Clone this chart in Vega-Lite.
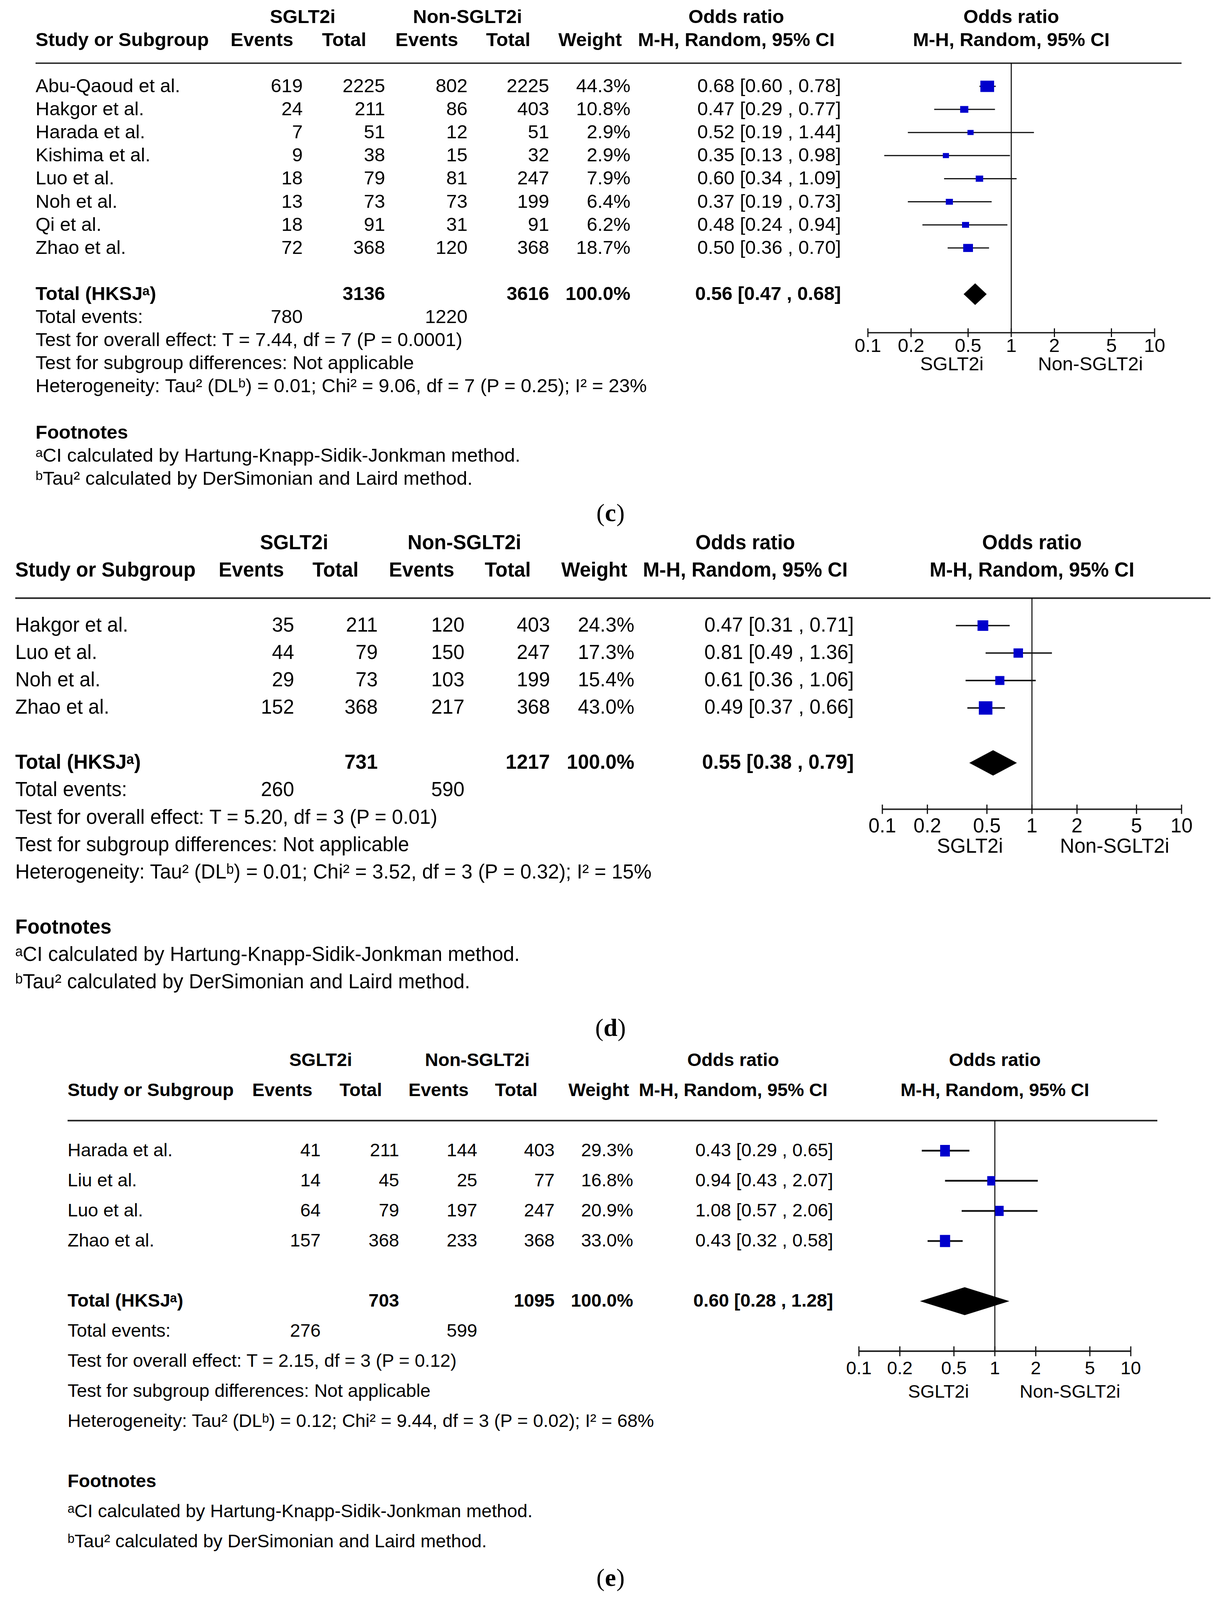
{
"$schema":"https://vega.github.io/schema/vega-lite/v6.json",
"padding":0,
"spacing":0,
"background":"white",
"config":{"view":{"stroke":null},"axis":{"disable":true},"legend":{"disable":true},
 "style":{"c":{"font":"Liberation Sans","fontSize":49},"d":{"font":"Liberation Sans","fontSize":51},"e":{"font":"Liberation Sans","fontSize":47},"b":{"fontWeight":"bold"},"cap":{"font":"Liberation Serif","fontSize":64}}},
"datasets":{
 "ticks":[{"v":0.1,"l":"0.1"},{"v":0.2,"l":"0.2"},{"v":0.5,"l":"0.5"},{"v":1,"l":"1"},{"v":2,"l":"2"},{"v":5,"l":"5"},{"v":10,"l":"10"}],
 "c_st":[
  {"row":3,"study":"Abu-Qaoud et al.","e1":619,"n1":2225,"e2":802,"n2":2225,"weight":44.3,"w":"44.3%","or":0.68,"lo":0.60,"hi":0.78,"ci":"0.68 [0.60 , 0.78]"},
  {"row":4,"study":"Hakgor et al.","e1":24,"n1":211,"e2":86,"n2":403,"weight":10.8,"w":"10.8%","or":0.47,"lo":0.29,"hi":0.77,"ci":"0.47 [0.29 , 0.77]"},
  {"row":5,"study":"Harada et al.","e1":7,"n1":51,"e2":12,"n2":51,"weight":2.9,"w":"2.9%","or":0.52,"lo":0.19,"hi":1.44,"ci":"0.52 [0.19 , 1.44]"},
  {"row":6,"study":"Kishima et al.","e1":9,"n1":38,"e2":15,"n2":32,"weight":2.9,"w":"2.9%","or":0.35,"lo":0.13,"hi":0.98,"ci":"0.35 [0.13 , 0.98]"},
  {"row":7,"study":"Luo et al.","e1":18,"n1":79,"e2":81,"n2":247,"weight":7.9,"w":"7.9%","or":0.60,"lo":0.34,"hi":1.09,"ci":"0.60 [0.34 , 1.09]"},
  {"row":8,"study":"Noh et al.","e1":13,"n1":73,"e2":73,"n2":199,"weight":6.4,"w":"6.4%","or":0.37,"lo":0.19,"hi":0.73,"ci":"0.37 [0.19 , 0.73]"},
  {"row":9,"study":"Qi et al.","e1":18,"n1":91,"e2":31,"n2":91,"weight":6.2,"w":"6.2%","or":0.48,"lo":0.24,"hi":0.94,"ci":"0.48 [0.24 , 0.94]"},
  {"row":10,"study":"Zhao et al.","e1":72,"n1":368,"e2":120,"n2":368,"weight":18.7,"w":"18.7%","or":0.50,"lo":0.36,"hi":0.70,"ci":"0.50 [0.36 , 0.70]"}],
 "c_tot":[{"row":12,"label":"Total (HKSJᵃ)","n1":3136,"n2":3616,"w":"100.0%","or":0.56,"lo":0.47,"hi":0.68,"ci":"0.56 [0.47 , 0.68]"}],
 "c_ev":[{"row":13,"label":"Total events:","e1":780,"e2":1220}],
 "c_notes":[
  {"row":14,"t":"Test for overall effect: T = 7.44, df = 7 (P = 0.0001)"},
  {"row":15,"t":"Test for subgroup differences: Not applicable"},
  {"row":16,"t":"Heterogeneity: Tau² (DLᵇ) = 0.01; Chi² = 9.06, df = 7 (P = 0.25); I² = 23%"},
  {"row":19,"t":"ᵃCI calculated by Hartung-Knapp-Sidik-Jonkman method."},
  {"row":20,"t":"ᵇTau² calculated by DerSimonian and Laird method."}],
 "d_st":[
  {"row":3,"study":"Hakgor et al.","e1":35,"n1":211,"e2":120,"n2":403,"weight":24.3,"w":"24.3%","or":0.47,"lo":0.31,"hi":0.71,"ci":"0.47 [0.31 , 0.71]"},
  {"row":4,"study":"Luo et al.","e1":44,"n1":79,"e2":150,"n2":247,"weight":17.3,"w":"17.3%","or":0.81,"lo":0.49,"hi":1.36,"ci":"0.81 [0.49 , 1.36]"},
  {"row":5,"study":"Noh et al.","e1":29,"n1":73,"e2":103,"n2":199,"weight":15.4,"w":"15.4%","or":0.61,"lo":0.36,"hi":1.06,"ci":"0.61 [0.36 , 1.06]"},
  {"row":6,"study":"Zhao et al.","e1":152,"n1":368,"e2":217,"n2":368,"weight":43.0,"w":"43.0%","or":0.49,"lo":0.37,"hi":0.66,"ci":"0.49 [0.37 , 0.66]"}],
 "d_tot":[{"row":8,"label":"Total (HKSJᵃ)","n1":731,"n2":1217,"w":"100.0%","or":0.55,"lo":0.38,"hi":0.79,"ci":"0.55 [0.38 , 0.79]"}],
 "d_ev":[{"row":9,"label":"Total events:","e1":260,"e2":590}],
 "d_notes":[
  {"row":10,"t":"Test for overall effect: T = 5.20, df = 3 (P = 0.01)"},
  {"row":11,"t":"Test for subgroup differences: Not applicable"},
  {"row":12,"t":"Heterogeneity: Tau² (DLᵇ) = 0.01; Chi² = 3.52, df = 3 (P = 0.32); I² = 15%"},
  {"row":15,"t":"ᵃCI calculated by Hartung-Knapp-Sidik-Jonkman method."},
  {"row":16,"t":"ᵇTau² calculated by DerSimonian and Laird method."}],
 "e_st":[
  {"row":3,"study":"Harada et al.","e1":41,"n1":211,"e2":144,"n2":403,"weight":29.3,"w":"29.3%","or":0.43,"lo":0.29,"hi":0.65,"ci":"0.43 [0.29 , 0.65]"},
  {"row":4,"study":"Liu et al.","e1":14,"n1":45,"e2":25,"n2":77,"weight":16.8,"w":"16.8%","or":0.94,"lo":0.43,"hi":2.07,"ci":"0.94 [0.43 , 2.07]"},
  {"row":5,"study":"Luo et al.","e1":64,"n1":79,"e2":197,"n2":247,"weight":20.9,"w":"20.9%","or":1.08,"lo":0.57,"hi":2.06,"ci":"1.08 [0.57 , 2.06]"},
  {"row":6,"study":"Zhao et al.","e1":157,"n1":368,"e2":233,"n2":368,"weight":33.0,"w":"33.0%","or":0.43,"lo":0.32,"hi":0.58,"ci":"0.43 [0.32 , 0.58]"}],
 "e_tot":[{"row":8,"label":"Total (HKSJᵃ)","n1":703,"n2":1095,"w":"100.0%","or":0.60,"lo":0.28,"hi":1.28,"ci":"0.60 [0.28 , 1.28]"}],
 "e_ev":[{"row":9,"label":"Total events:","e1":276,"e2":599}],
 "e_notes":[
  {"row":10,"t":"Test for overall effect: T = 2.15, df = 3 (P = 0.12)"},
  {"row":11,"t":"Test for subgroup differences: Not applicable"},
  {"row":12,"t":"Heterogeneity: Tau² (DLᵇ) = 0.12; Chi² = 9.44, df = 3 (P = 0.02); I² = 68%"},
  {"row":15,"t":"ᵃCI calculated by Hartung-Knapp-Sidik-Jonkman method."},
  {"row":16,"t":"ᵇTau² calculated by DerSimonian and Laird method."}]
},
"vconcat":[
{"width":3126,"height":1360,"resolve":{"scale":{"x":"independent"}},
 "layer":[
  {"layer":[
   {"data":{"values":[{}]},"mark":{"type":"rule","strokeWidth":3.5,"color":"#222"},"encoding":{"x":{"datum":0,"type":"quantitative","scale":{"domain":[0,1,2,3,4,5,6,7],"range":[91,775,986,1197,1406,1614,2153,3025],"nice":false,"zero":false}},"x2":{"datum":7},"y":{"datum":2,"type":"quantitative","scale":{"domain":[0,20],"range":[43.55,1225.97],"nice":false,"zero":false}}}},
   {"data":{"values":[{}]},"mark":{"type":"text","style":["c","b"],"align":"center"},"encoding":{"x":{"datum":1},"y":{"datum":0},"text":{"value":"SGLT2i"}}},
   {"data":{"values":[{}]},"mark":{"type":"text","style":["c","b"],"align":"center"},"encoding":{"x":{"datum":3},"y":{"datum":0},"text":{"value":"Non-SGLT2i"}}},
   {"data":{"values":[{"row":0,"t":"Odds ratio"},{"row":1,"t":"M-H, Random, 95% CI"}]},"mark":{"type":"text","style":["c","b"],"align":"center","dx":-268},"encoding":{"x":{"datum":6},"y":{"field":"row","type":"quantitative"},"text":{"field":"t"}}},
   {"data":{"values":[{}]},"mark":{"type":"text","style":["c","b"],"align":"left"},"encoding":{"x":{"datum":0},"y":{"datum":1},"text":{"value":"Study or Subgroup"}}},
   {"data":{"values":[{}]},"mark":{"type":"text","style":["c","b"],"align":"right","dx":-24},"encoding":{"x":{"datum":1},"y":{"datum":1},"text":{"value":"Events"}}},
   {"data":{"values":[{}]},"mark":{"type":"text","style":["c","b"],"align":"right","dx":-48},"encoding":{"x":{"datum":2},"y":{"datum":1},"text":{"value":"Total"}}},
   {"data":{"values":[{}]},"mark":{"type":"text","style":["c","b"],"align":"right","dx":-24},"encoding":{"x":{"datum":3},"y":{"datum":1},"text":{"value":"Events"}}},
   {"data":{"values":[{}]},"mark":{"type":"text","style":["c","b"],"align":"right","dx":-48},"encoding":{"x":{"datum":4},"y":{"datum":1},"text":{"value":"Total"}}},
   {"data":{"values":[{}]},"mark":{"type":"text","style":["c","b"],"align":"right","dx":-22},"encoding":{"x":{"datum":5},"y":{"datum":1},"text":{"value":"Weight"}}},
   {"data":{"name":"c_st"},"mark":{"type":"text","style":["c"],"align":"left"},"encoding":{"x":{"datum":0},"y":{"field":"row","type":"quantitative"},"text":{"field":"study","type":"nominal"}}},
   {"data":{"name":"c_st"},"mark":{"type":"text","style":["c"],"align":"right"},"encoding":{"x":{"datum":1},"y":{"field":"row","type":"quantitative"},"text":{"field":"e1","type":"nominal"}}},
   {"data":{"name":"c_st"},"mark":{"type":"text","style":["c"],"align":"right"},"encoding":{"x":{"datum":2},"y":{"field":"row","type":"quantitative"},"text":{"field":"n1","type":"nominal"}}},
   {"data":{"name":"c_st"},"mark":{"type":"text","style":["c"],"align":"right"},"encoding":{"x":{"datum":3},"y":{"field":"row","type":"quantitative"},"text":{"field":"e2","type":"nominal"}}},
   {"data":{"name":"c_st"},"mark":{"type":"text","style":["c"],"align":"right"},"encoding":{"x":{"datum":4},"y":{"field":"row","type":"quantitative"},"text":{"field":"n2","type":"nominal"}}},
   {"data":{"name":"c_st"},"mark":{"type":"text","style":["c"],"align":"right"},"encoding":{"x":{"datum":5},"y":{"field":"row","type":"quantitative"},"text":{"field":"w","type":"nominal"}}},
   {"data":{"name":"c_st"},"mark":{"type":"text","style":["c"],"align":"right"},"encoding":{"x":{"datum":6},"y":{"field":"row","type":"quantitative"},"text":{"field":"ci","type":"nominal"}}},
   {"data":{"name":"c_tot"},"mark":{"type":"text","style":["c","b"],"align":"left"},"encoding":{"x":{"datum":0},"y":{"field":"row","type":"quantitative"},"text":{"field":"label","type":"nominal"}}},
   {"data":{"name":"c_tot"},"mark":{"type":"text","style":["c","b"],"align":"right"},"encoding":{"x":{"datum":2},"y":{"field":"row","type":"quantitative"},"text":{"field":"n1","type":"nominal"}}},
   {"data":{"name":"c_tot"},"mark":{"type":"text","style":["c","b"],"align":"right"},"encoding":{"x":{"datum":4},"y":{"field":"row","type":"quantitative"},"text":{"field":"n2","type":"nominal"}}},
   {"data":{"name":"c_tot"},"mark":{"type":"text","style":["c","b"],"align":"right"},"encoding":{"x":{"datum":5},"y":{"field":"row","type":"quantitative"},"text":{"field":"w","type":"nominal"}}},
   {"data":{"name":"c_tot"},"mark":{"type":"text","style":["c","b"],"align":"right"},"encoding":{"x":{"datum":6},"y":{"field":"row","type":"quantitative"},"text":{"field":"ci","type":"nominal"}}},
   {"data":{"name":"c_ev"},"mark":{"type":"text","style":["c"],"align":"left"},"encoding":{"x":{"datum":0},"y":{"field":"row","type":"quantitative"},"text":{"field":"label","type":"nominal"}}},
   {"data":{"name":"c_ev"},"mark":{"type":"text","style":["c"],"align":"right"},"encoding":{"x":{"datum":1},"y":{"field":"row","type":"quantitative"},"text":{"field":"e1","type":"nominal"}}},
   {"data":{"name":"c_ev"},"mark":{"type":"text","style":["c"],"align":"right"},"encoding":{"x":{"datum":3},"y":{"field":"row","type":"quantitative"},"text":{"field":"e2","type":"nominal"}}},
   {"data":{"name":"c_notes"},"mark":{"type":"text","style":["c"],"align":"left"},"encoding":{"x":{"datum":0},"y":{"field":"row","type":"quantitative"},"text":{"field":"t","type":"nominal"}}},
   {"data":{"values":[{}]},"mark":{"type":"text","style":["c","b"],"align":"left"},"encoding":{"x":{"datum":0},"y":{"datum":18},"text":{"value":"Footnotes"}}}
  ]},
  {"layer":[
   {"data":{"values":[{}]},"mark":{"type":"rule","strokeWidth":2.5,"color":"#000"},"encoding":{"x":{"datum":1,"type":"quantitative","scale":{"type":"log","domain":[0.1,10],"range":[2222,2956],"nice":false}},"y":{"datum":2},"y2":{"datum":13.67}}},
   {"data":{"name":"c_st"},"mark":{"type":"rule","strokeWidth":3,"color":"#111"},"encoding":{"x":{"field":"lo","type":"quantitative"},"x2":{"field":"hi"},"y":{"field":"row","type":"quantitative"}}},
   {"data":{"name":"c_st"},"mark":{"type":"point","shape":"M-1,-0.826H1V0.826H-1Z","filled":true,"color":"#0000cc","opacity":1,"strokeWidth":0},"encoding":{"x":{"field":"or","type":"quantitative"},"y":{"field":"row","type":"quantitative"},"size":{"field":"weight","type":"quantitative","scale":{"domain":[2.9,44.3],"range":[180,1236],"zero":false}}}},
   {"data":{"name":"c_tot"},"mark":{"type":"point","shape":"M-1,0L0,-0.944L1,0L0,0.944Z","filled":true,"color":"#000","opacity":1,"strokeWidth":0,"size":3481},"encoding":{"x":{"field":"or","type":"quantitative"},"y":{"field":"row","type":"quantitative"}}},
   {"data":{"values":[{}]},"mark":{"type":"rule","strokeWidth":3.5,"color":"#222"},"encoding":{"x":{"datum":0.1},"x2":{"datum":10},"y":{"datum":13.67}}},
   {"data":{"name":"ticks"},"mark":{"type":"rule","strokeWidth":3,"color":"#111"},"encoding":{"x":{"field":"v","type":"quantitative"},"y":{"datum":13.48},"y2":{"datum":13.86}}},
   {"data":{"name":"ticks"},"mark":{"type":"text","style":["c"],"align":"center"},"encoding":{"x":{"field":"v","type":"quantitative"},"y":{"datum":14.25},"text":{"field":"l","type":"nominal"}}},
   {"data":{"values":[{}]},"mark":{"type":"text","style":["c"],"align":"center"},"encoding":{"x":{"datum":0.385},"y":{"datum":15.05},"text":{"value":"SGLT2i"}}},
   {"data":{"values":[{}]},"mark":{"type":"text","style":["c"],"align":"center"},"encoding":{"x":{"datum":3.57},"y":{"datum":15.05},"text":{"value":"Non-SGLT2i"}}},
   {"data":{"values":[{"row":0,"t":"Odds ratio"},{"row":1,"t":"M-H, Random, 95% CI"}]},"mark":{"type":"text","style":["c","b"],"align":"center"},"encoding":{"x":{"datum":1},"y":{"field":"row","type":"quantitative"},"text":{"field":"t"}}}
  ]},
  {"layer":[
   {"data":{"values":[{}]},"mark":{"type":"text","style":["cap"],"align":"right","dx":-15},"encoding":{"x":{"datum":0.5,"type":"quantitative","scale":{"domain":[0,1],"nice":false,"zero":false}},"y":{"datum":21.5},"text":{"value":"("}}},
   {"data":{"values":[{}]},"mark":{"type":"text","style":["cap","b"],"align":"center"},"encoding":{"x":{"datum":0.5},"y":{"datum":21.5},"text":{"value":"c"}}},
   {"data":{"values":[{}]},"mark":{"type":"text","style":["cap"],"align":"left","dx":15},"encoding":{"x":{"datum":0.5},"y":{"datum":21.5},"text":{"value":")"}}}
  ]}
 ]},
{"width":3126,"height":1313,"resolve":{"scale":{"x":"independent"}},
 "layer":[
  {"layer":[
   {"data":{"values":[{}]},"mark":{"type":"rule","strokeWidth":4,"color":"#222"},"encoding":{"x":{"datum":0,"type":"quantitative","scale":{"domain":[0,1,2,3,4,5,6,7],"range":[39,753,967,1189,1408,1624,2186,3099],"nice":false,"zero":false}},"x2":{"datum":7},"y":{"datum":2,"type":"quantitative","scale":{"domain":[0,16],"range":[30.66,1155.21],"nice":false,"zero":false}}}},
   {"data":{"values":[{}]},"mark":{"type":"text","style":["d","b"],"align":"center"},"encoding":{"x":{"datum":1},"y":{"datum":0},"text":{"value":"SGLT2i"}}},
   {"data":{"values":[{}]},"mark":{"type":"text","style":["d","b"],"align":"center"},"encoding":{"x":{"datum":3},"y":{"datum":0},"text":{"value":"Non-SGLT2i"}}},
   {"data":{"values":[{"row":0,"t":"Odds ratio"},{"row":1,"t":"M-H, Random, 95% CI"}]},"mark":{"type":"text","style":["d","b"],"align":"center","dx":-278},"encoding":{"x":{"datum":6},"y":{"field":"row","type":"quantitative"},"text":{"field":"t"}}},
   {"data":{"values":[{}]},"mark":{"type":"text","style":["d","b"],"align":"left"},"encoding":{"x":{"datum":0},"y":{"datum":1},"text":{"value":"Study or Subgroup"}}},
   {"data":{"values":[{}]},"mark":{"type":"text","style":["d","b"],"align":"right","dx":-26},"encoding":{"x":{"datum":1},"y":{"datum":1},"text":{"value":"Events"}}},
   {"data":{"values":[{}]},"mark":{"type":"text","style":["d","b"],"align":"right","dx":-49},"encoding":{"x":{"datum":2},"y":{"datum":1},"text":{"value":"Total"}}},
   {"data":{"values":[{}]},"mark":{"type":"text","style":["d","b"],"align":"right","dx":-26},"encoding":{"x":{"datum":3},"y":{"datum":1},"text":{"value":"Events"}}},
   {"data":{"values":[{}]},"mark":{"type":"text","style":["d","b"],"align":"right","dx":-49},"encoding":{"x":{"datum":4},"y":{"datum":1},"text":{"value":"Total"}}},
   {"data":{"values":[{}]},"mark":{"type":"text","style":["d","b"],"align":"right","dx":-18},"encoding":{"x":{"datum":5},"y":{"datum":1},"text":{"value":"Weight"}}},
   {"data":{"name":"d_st"},"mark":{"type":"text","style":["d"],"align":"left"},"encoding":{"x":{"datum":0},"y":{"field":"row","type":"quantitative"},"text":{"field":"study","type":"nominal"}}},
   {"data":{"name":"d_st"},"mark":{"type":"text","style":["d"],"align":"right"},"encoding":{"x":{"datum":1},"y":{"field":"row","type":"quantitative"},"text":{"field":"e1","type":"nominal"}}},
   {"data":{"name":"d_st"},"mark":{"type":"text","style":["d"],"align":"right"},"encoding":{"x":{"datum":2},"y":{"field":"row","type":"quantitative"},"text":{"field":"n1","type":"nominal"}}},
   {"data":{"name":"d_st"},"mark":{"type":"text","style":["d"],"align":"right"},"encoding":{"x":{"datum":3},"y":{"field":"row","type":"quantitative"},"text":{"field":"e2","type":"nominal"}}},
   {"data":{"name":"d_st"},"mark":{"type":"text","style":["d"],"align":"right"},"encoding":{"x":{"datum":4},"y":{"field":"row","type":"quantitative"},"text":{"field":"n2","type":"nominal"}}},
   {"data":{"name":"d_st"},"mark":{"type":"text","style":["d"],"align":"right"},"encoding":{"x":{"datum":5},"y":{"field":"row","type":"quantitative"},"text":{"field":"w","type":"nominal"}}},
   {"data":{"name":"d_st"},"mark":{"type":"text","style":["d"],"align":"right"},"encoding":{"x":{"datum":6},"y":{"field":"row","type":"quantitative"},"text":{"field":"ci","type":"nominal"}}},
   {"data":{"name":"d_tot"},"mark":{"type":"text","style":["d","b"],"align":"left"},"encoding":{"x":{"datum":0},"y":{"field":"row","type":"quantitative"},"text":{"field":"label","type":"nominal"}}},
   {"data":{"name":"d_tot"},"mark":{"type":"text","style":["d","b"],"align":"right"},"encoding":{"x":{"datum":2},"y":{"field":"row","type":"quantitative"},"text":{"field":"n1","type":"nominal"}}},
   {"data":{"name":"d_tot"},"mark":{"type":"text","style":["d","b"],"align":"right"},"encoding":{"x":{"datum":4},"y":{"field":"row","type":"quantitative"},"text":{"field":"n2","type":"nominal"}}},
   {"data":{"name":"d_tot"},"mark":{"type":"text","style":["d","b"],"align":"right"},"encoding":{"x":{"datum":5},"y":{"field":"row","type":"quantitative"},"text":{"field":"w","type":"nominal"}}},
   {"data":{"name":"d_tot"},"mark":{"type":"text","style":["d","b"],"align":"right"},"encoding":{"x":{"datum":6},"y":{"field":"row","type":"quantitative"},"text":{"field":"ci","type":"nominal"}}},
   {"data":{"name":"d_ev"},"mark":{"type":"text","style":["d"],"align":"left"},"encoding":{"x":{"datum":0},"y":{"field":"row","type":"quantitative"},"text":{"field":"label","type":"nominal"}}},
   {"data":{"name":"d_ev"},"mark":{"type":"text","style":["d"],"align":"right"},"encoding":{"x":{"datum":1},"y":{"field":"row","type":"quantitative"},"text":{"field":"e1","type":"nominal"}}},
   {"data":{"name":"d_ev"},"mark":{"type":"text","style":["d"],"align":"right"},"encoding":{"x":{"datum":3},"y":{"field":"row","type":"quantitative"},"text":{"field":"e2","type":"nominal"}}},
   {"data":{"name":"d_notes"},"mark":{"type":"text","style":["d"],"align":"left"},"encoding":{"x":{"datum":0},"y":{"field":"row","type":"quantitative"},"text":{"field":"t","type":"nominal"}}},
   {"data":{"values":[{}]},"mark":{"type":"text","style":["d","b"],"align":"left"},"encoding":{"x":{"datum":0},"y":{"datum":14},"text":{"value":"Footnotes"}}}
  ]},
  {"layer":[
   {"data":{"values":[{}]},"mark":{"type":"rule","strokeWidth":2.5,"color":"#000"},"encoding":{"x":{"datum":1,"type":"quantitative","scale":{"type":"log","domain":[0.1,10],"range":[2259,3025],"nice":false}},"y":{"datum":2},"y2":{"datum":9.69}}},
   {"data":{"name":"d_st"},"mark":{"type":"rule","strokeWidth":3.6,"color":"#111"},"encoding":{"x":{"field":"lo","type":"quantitative"},"x2":{"field":"hi"},"y":{"field":"row","type":"quantitative"}}},
   {"data":{"name":"d_st"},"mark":{"type":"point","shape":"M-1,-0.98H1V0.98H-1Z","filled":true,"color":"#0000cc","opacity":1,"strokeWidth":0},"encoding":{"x":{"field":"or","type":"quantitative"},"y":{"field":"row","type":"quantitative"},"size":{"field":"weight","type":"quantitative","scale":{"domain":[0,43],"range":[0,1211],"zero":false}}}},
   {"data":{"name":"d_tot"},"mark":{"type":"point","shape":"M-1,0L0,-0.533L1,0L0,0.533Z","filled":true,"color":"#000","opacity":1,"strokeWidth":0,"size":14884},"encoding":{"x":{"field":"or","type":"quantitative"},"y":{"field":"row","type":"quantitative"}}},
   {"data":{"values":[{}]},"mark":{"type":"rule","strokeWidth":3.8,"color":"#222"},"encoding":{"x":{"datum":0.1},"x2":{"datum":10},"y":{"datum":9.69}}},
   {"data":{"name":"ticks"},"mark":{"type":"rule","strokeWidth":3,"color":"#111"},"encoding":{"x":{"field":"v","type":"quantitative"},"y":{"datum":9.52},"y2":{"datum":9.86}}},
   {"data":{"name":"ticks"},"mark":{"type":"text","style":["d"],"align":"center"},"encoding":{"x":{"field":"v","type":"quantitative"},"y":{"datum":10.32},"text":{"field":"l","type":"nominal"}}},
   {"data":{"values":[{}]},"mark":{"type":"text","style":["d"],"align":"center"},"encoding":{"x":{"datum":0.385},"y":{"datum":11.06},"text":{"value":"SGLT2i"}}},
   {"data":{"values":[{}]},"mark":{"type":"text","style":["d"],"align":"center"},"encoding":{"x":{"datum":3.57},"y":{"datum":11.06},"text":{"value":"Non-SGLT2i"}}},
   {"data":{"values":[{"row":0,"t":"Odds ratio"},{"row":1,"t":"M-H, Random, 95% CI"}]},"mark":{"type":"text","style":["d","b"],"align":"center"},"encoding":{"x":{"datum":1},"y":{"field":"row","type":"quantitative"},"text":{"field":"t"}}}
  ]},
  {"layer":[
   {"data":{"values":[{}]},"mark":{"type":"text","style":["cap"],"align":"right","dx":-18},"encoding":{"x":{"datum":0.5,"type":"quantitative","scale":{"domain":[0,1],"nice":false,"zero":false}},"y":{"datum":17.68},"text":{"value":"("}}},
   {"data":{"values":[{}]},"mark":{"type":"text","style":["cap","b"],"align":"center"},"encoding":{"x":{"datum":0.5},"y":{"datum":17.68},"text":{"value":"d"}}},
   {"data":{"values":[{}]},"mark":{"type":"text","style":["cap"],"align":"left","dx":18},"encoding":{"x":{"datum":0.5},"y":{"datum":17.68},"text":{"value":")"}}}
  ]}
 ]},
{"width":3126,"height":1423,"resolve":{"scale":{"x":"independent"}},
 "layer":[
  {"layer":[
   {"data":{"values":[{}]},"mark":{"type":"rule","strokeWidth":4,"color":"#222"},"encoding":{"x":{"datum":0,"type":"quantitative","scale":{"domain":[0,1,2,3,4,5,6,7],"range":[173,821,1022,1222,1420,1621,2133,2963],"nice":false,"zero":false}},"x2":{"datum":7},"y":{"datum":2,"type":"quantitative","scale":{"domain":[0,16],"range":[41.67,1274.4],"nice":false,"zero":false}}}},
   {"data":{"values":[{}]},"mark":{"type":"text","style":["e","b"],"align":"center"},"encoding":{"x":{"datum":1},"y":{"datum":0},"text":{"value":"SGLT2i"}}},
   {"data":{"values":[{}]},"mark":{"type":"text","style":["e","b"],"align":"center"},"encoding":{"x":{"datum":3},"y":{"datum":0},"text":{"value":"Non-SGLT2i"}}},
   {"data":{"values":[{"row":0,"t":"Odds ratio"},{"row":1,"t":"M-H, Random, 95% CI"}]},"mark":{"type":"text","style":["e","b"],"align":"center","dx":-256},"encoding":{"x":{"datum":6},"y":{"field":"row","type":"quantitative"},"text":{"field":"t"}}},
   {"data":{"values":[{}]},"mark":{"type":"text","style":["e","b"],"align":"left"},"encoding":{"x":{"datum":0},"y":{"datum":1},"text":{"value":"Study or Subgroup"}}},
   {"data":{"values":[{}]},"mark":{"type":"text","style":["e","b"],"align":"right","dx":-21},"encoding":{"x":{"datum":1},"y":{"datum":1},"text":{"value":"Events"}}},
   {"data":{"values":[{}]},"mark":{"type":"text","style":["e","b"],"align":"right","dx":-44},"encoding":{"x":{"datum":2},"y":{"datum":1},"text":{"value":"Total"}}},
   {"data":{"values":[{}]},"mark":{"type":"text","style":["e","b"],"align":"right","dx":-22},"encoding":{"x":{"datum":3},"y":{"datum":1},"text":{"value":"Events"}}},
   {"data":{"values":[{}]},"mark":{"type":"text","style":["e","b"],"align":"right","dx":-44},"encoding":{"x":{"datum":4},"y":{"datum":1},"text":{"value":"Total"}}},
   {"data":{"values":[{}]},"mark":{"type":"text","style":["e","b"],"align":"right","dx":-10},"encoding":{"x":{"datum":5},"y":{"datum":1},"text":{"value":"Weight"}}},
   {"data":{"name":"e_st"},"mark":{"type":"text","style":["e"],"align":"left"},"encoding":{"x":{"datum":0},"y":{"field":"row","type":"quantitative"},"text":{"field":"study","type":"nominal"}}},
   {"data":{"name":"e_st"},"mark":{"type":"text","style":["e"],"align":"right"},"encoding":{"x":{"datum":1},"y":{"field":"row","type":"quantitative"},"text":{"field":"e1","type":"nominal"}}},
   {"data":{"name":"e_st"},"mark":{"type":"text","style":["e"],"align":"right"},"encoding":{"x":{"datum":2},"y":{"field":"row","type":"quantitative"},"text":{"field":"n1","type":"nominal"}}},
   {"data":{"name":"e_st"},"mark":{"type":"text","style":["e"],"align":"right"},"encoding":{"x":{"datum":3},"y":{"field":"row","type":"quantitative"},"text":{"field":"e2","type":"nominal"}}},
   {"data":{"name":"e_st"},"mark":{"type":"text","style":["e"],"align":"right"},"encoding":{"x":{"datum":4},"y":{"field":"row","type":"quantitative"},"text":{"field":"n2","type":"nominal"}}},
   {"data":{"name":"e_st"},"mark":{"type":"text","style":["e"],"align":"right"},"encoding":{"x":{"datum":5},"y":{"field":"row","type":"quantitative"},"text":{"field":"w","type":"nominal"}}},
   {"data":{"name":"e_st"},"mark":{"type":"text","style":["e"],"align":"right"},"encoding":{"x":{"datum":6},"y":{"field":"row","type":"quantitative"},"text":{"field":"ci","type":"nominal"}}},
   {"data":{"name":"e_tot"},"mark":{"type":"text","style":["e","b"],"align":"left"},"encoding":{"x":{"datum":0},"y":{"field":"row","type":"quantitative"},"text":{"field":"label","type":"nominal"}}},
   {"data":{"name":"e_tot"},"mark":{"type":"text","style":["e","b"],"align":"right"},"encoding":{"x":{"datum":2},"y":{"field":"row","type":"quantitative"},"text":{"field":"n1","type":"nominal"}}},
   {"data":{"name":"e_tot"},"mark":{"type":"text","style":["e","b"],"align":"right"},"encoding":{"x":{"datum":4},"y":{"field":"row","type":"quantitative"},"text":{"field":"n2","type":"nominal"}}},
   {"data":{"name":"e_tot"},"mark":{"type":"text","style":["e","b"],"align":"right"},"encoding":{"x":{"datum":5},"y":{"field":"row","type":"quantitative"},"text":{"field":"w","type":"nominal"}}},
   {"data":{"name":"e_tot"},"mark":{"type":"text","style":["e","b"],"align":"right"},"encoding":{"x":{"datum":6},"y":{"field":"row","type":"quantitative"},"text":{"field":"ci","type":"nominal"}}},
   {"data":{"name":"e_ev"},"mark":{"type":"text","style":["e"],"align":"left"},"encoding":{"x":{"datum":0},"y":{"field":"row","type":"quantitative"},"text":{"field":"label","type":"nominal"}}},
   {"data":{"name":"e_ev"},"mark":{"type":"text","style":["e"],"align":"right"},"encoding":{"x":{"datum":1},"y":{"field":"row","type":"quantitative"},"text":{"field":"e1","type":"nominal"}}},
   {"data":{"name":"e_ev"},"mark":{"type":"text","style":["e"],"align":"right"},"encoding":{"x":{"datum":3},"y":{"field":"row","type":"quantitative"},"text":{"field":"e2","type":"nominal"}}},
   {"data":{"name":"e_notes"},"mark":{"type":"text","style":["e"],"align":"left"},"encoding":{"x":{"datum":0},"y":{"field":"row","type":"quantitative"},"text":{"field":"t","type":"nominal"}}},
   {"data":{"values":[{}]},"mark":{"type":"text","style":["e","b"],"align":"left"},"encoding":{"x":{"datum":0},"y":{"datum":14},"text":{"value":"Footnotes"}}}
  ]},
  {"layer":[
   {"data":{"values":[{}]},"mark":{"type":"rule","strokeWidth":2.5,"color":"#000"},"encoding":{"x":{"datum":1,"type":"quantitative","scale":{"type":"log","domain":[0.1,10],"range":[2199,2895],"nice":false}},"y":{"datum":2},"y2":{"datum":9.66}}},
   {"data":{"name":"e_st"},"mark":{"type":"rule","strokeWidth":4.5,"color":"#111"},"encoding":{"x":{"field":"lo","type":"quantitative"},"x2":{"field":"hi"},"y":{"field":"row","type":"quantitative"}}},
   {"data":{"name":"e_st"},"mark":{"type":"point","shape":"M-0.84,-1H0.84V1H-0.84Z","filled":true,"color":"#0000cc","opacity":1,"strokeWidth":0},"encoding":{"x":{"field":"or","type":"quantitative"},"y":{"field":"row","type":"quantitative"},"size":{"field":"weight","type":"quantitative","scale":{"domain":[0,33],"range":[0,1017],"zero":false}}}},
   {"data":{"name":"e_tot"},"mark":{"type":"point","shape":"M-1,0L0,-0.312L1,0L0,0.312Z","filled":true,"color":"#000","opacity":1,"strokeWidth":0,"size":52441},"encoding":{"x":{"field":"or","type":"quantitative"},"y":{"field":"row","type":"quantitative"}}},
   {"data":{"values":[{}]},"mark":{"type":"rule","strokeWidth":4,"color":"#222"},"encoding":{"x":{"datum":0.1},"x2":{"datum":10},"y":{"datum":9.66}}},
   {"data":{"name":"ticks"},"mark":{"type":"rule","strokeWidth":3,"color":"#111"},"encoding":{"x":{"field":"v","type":"quantitative"},"y":{"datum":9.5},"y2":{"datum":9.83}}},
   {"data":{"name":"ticks"},"mark":{"type":"text","style":["e"],"align":"center"},"encoding":{"x":{"field":"v","type":"quantitative"},"y":{"datum":10.24},"text":{"field":"l","type":"nominal"}}},
   {"data":{"values":[{}]},"mark":{"type":"text","style":["e"],"align":"center"},"encoding":{"x":{"datum":0.385},"y":{"datum":11.03},"text":{"value":"SGLT2i"}}},
   {"data":{"values":[{}]},"mark":{"type":"text","style":["e"],"align":"center"},"encoding":{"x":{"datum":3.57},"y":{"datum":11.03},"text":{"value":"Non-SGLT2i"}}},
   {"data":{"values":[{"row":0,"t":"Odds ratio"},{"row":1,"t":"M-H, Random, 95% CI"}]},"mark":{"type":"text","style":["e","b"],"align":"center"},"encoding":{"x":{"datum":1},"y":{"field":"row","type":"quantitative"},"text":{"field":"t"}}}
  ]},
  {"layer":[
   {"data":{"values":[{}]},"mark":{"type":"text","style":["cap"],"align":"right","dx":-15},"encoding":{"x":{"datum":0.5,"type":"quantitative","scale":{"domain":[0,1],"nice":false,"zero":false}},"y":{"datum":17.21},"text":{"value":"("}}},
   {"data":{"values":[{}]},"mark":{"type":"text","style":["cap","b"],"align":"center"},"encoding":{"x":{"datum":0.5},"y":{"datum":17.21},"text":{"value":"e"}}},
   {"data":{"values":[{}]},"mark":{"type":"text","style":["cap"],"align":"left","dx":15},"encoding":{"x":{"datum":0.5},"y":{"datum":17.21},"text":{"value":")"}}}
  ]}
 ]}
]
}
